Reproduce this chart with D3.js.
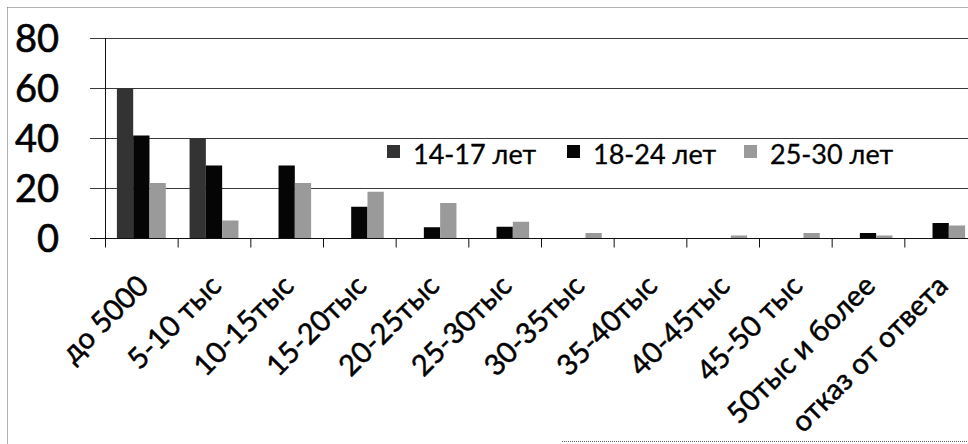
<!DOCTYPE html>
<html>
<head>
<meta charset="utf-8">
<script src="https://cdn.jsdelivr.net/npm/d3@7"></script>
<style>
    body { margin: 0; background: #fff; }
    svg { display: block; font-family: Lato, "Open Sans", sans-serif; }
</style>
</head>
<body>
<svg id="chart" width="968" height="444"></svg>
<script>
// income brackets
const categories = ['до 5000', '5-10 тыс', '10-15тыс', '15-20тыс', '20-25тыс', '25-30тыс',
    '30-35тыс', '35-40тыс', '40-45тыс', '45-50 тыс', '50тыс и более', 'отказ от ответа'];
const seriesNames = ['14-17 лет', '18-24 лет', '25-30 лет'];
const values1417 = [60, 40, 0, 0, 0, 0, 0, 0, 0, 0, 0, 0];
const values1824 = [41, 29, 29, 12.5, 4.3, 4.5, 0, 0, 0, 0, 2, 6];
const values2530 = [22, 7, 22, 18.5, 14, 6.5, 2, 0, 1, 2, 1, 5];
const yTicks = [0, 20, 40, 60, 80];

const seriesValues = [values1417, values1824, values2530];
const colors = ['#333333', '#050505', '#9a9a9a'];

const svg = d3.select('#chart');
const W = 968, H = 444;

// dotted frame of the chart (cut off on the right in the scan)
const frame = svg.append('g')
    .attr('fill', 'none')
    .attr('stroke', '#666')
    .attr('stroke-dasharray', '1,1');
frame.append('line').attr('x1', 7.5).attr('y1', 7.5).attr('x2', W).attr('y2', 7.5);
frame.append('line').attr('x1', 7.5).attr('y1', 7.5).attr('x2', 7.5).attr('y2', H);
frame.append('line').attr('x1', 562).attr('y1', 441.5).attr('x2', W).attr('y2', 441.5);

const plotLeft = 105, plotRight = 977;
const y = d3.scaleLinear().domain([0, 80]).range([238, 38]);

const x0 = d3.scaleBand()
    .domain(categories)
    .range([plotLeft, plotRight])
    .padding(0);

const x1 = d3.scaleBand()
    .domain(seriesNames)
    .range([0, x0.bandwidth()])
    .paddingInner(0)
    .paddingOuter(0.73);

// gridlines, including the small stub left of the axis
const grid = svg.append('g')
    .attr('transform', `translate(90,0)`)
    .call(d3.axisRight(y).tickValues(yTicks.filter(d => d > 0)).tickSize(W - 90).tickFormat(''));
grid.select('.domain').remove();
grid.selectAll('line').attr('stroke', '#3a3a3a').attr('stroke-width', 1);

// bars
const rows = categories.map((c, i) => ({ cat: c, vals: seriesValues.map(s => s[i]) }));
const groups = svg.append('g')
    .selectAll('g')
    .data(rows)
    .join('g')
    .attr('transform', d => `translate(${x0(d.cat)},0)`);

groups.selectAll('rect')
    .data(d => d.vals.map((v, k) => ({ name: seriesNames[k], v, k })))
    .join('rect')
    .attr('x', d => x1(d.name))
    .attr('width', x1.bandwidth())
    .attr('y', d => y(d.v))
    .attr('height', d => y(0) - y(d.v))
    .attr('fill', d => colors[d.k]);

// y axis line + labels
svg.append('line')
    .attr('x1', plotLeft + 0.5).attr('x2', plotLeft + 0.5)
    .attr('y1', y(80)).attr('y2', y(0) + 8)
    .attr('stroke', '#111');

svg.append('g')
    .selectAll('text')
    .data(yTicks)
    .join('text')
    .attr('x', 59)
    .attr('y', d => y(d))
    .attr('dy', '0.36em')
    .attr('text-anchor', 'end')
    .attr('font-size', 38)
    .attr('fill', '#000')
    .attr('stroke', '#000')
    .attr('stroke-width', 0.6)
    .text(d => d);

// x axis with ticks at category boundaries
const xAxis = svg.append('g')
    .attr('transform', `translate(0,${y(0) + 0.5})`);
xAxis.append('line')
    .attr('x1', 90).attr('x2', W)
    .attr('stroke', '#111');
xAxis.selectAll('line.tick')
    .data(categories.map(c => x0(c)).concat([plotRight]))
    .join('line')
    .attr('class', 'tick')
    .attr('x1', d => d + 0.5).attr('x2', d => d + 0.5)
    .attr('y1', 0).attr('y2', 9)
    .attr('stroke', '#111');

xAxis.selectAll('text')
    .data(categories)
    .join('text')
    .attr('text-anchor', 'end')
    .attr('font-size', 29)
    .attr('fill', '#000')
    .attr('stroke', '#000')
    .attr('stroke-width', 0.5)
    .attr('transform', d => `translate(${x0(d) + x0.bandwidth() / 2 + 9},${49}) rotate(-45)`)
    .text(d => d);

// legend
const legendX = [387, 567, 744];
const legend = svg.append('g')
    .selectAll('g')
    .data(seriesNames)
    .join('g')
    .attr('transform', (d, i) => `translate(${legendX[i]},145)`);
legend.append('rect')
    .attr('width', 13).attr('height', 13)
    .attr('fill', (d, i) => colors[i]);
legend.append('text')
    .attr('x', 26)
    .attr('y', 19)
    .attr('font-size', 27)
    .attr('fill', '#000')
    .attr('stroke', '#000')
    .attr('stroke-width', 0.3)
    .text(d => d);
</script>
</body>
</html>
